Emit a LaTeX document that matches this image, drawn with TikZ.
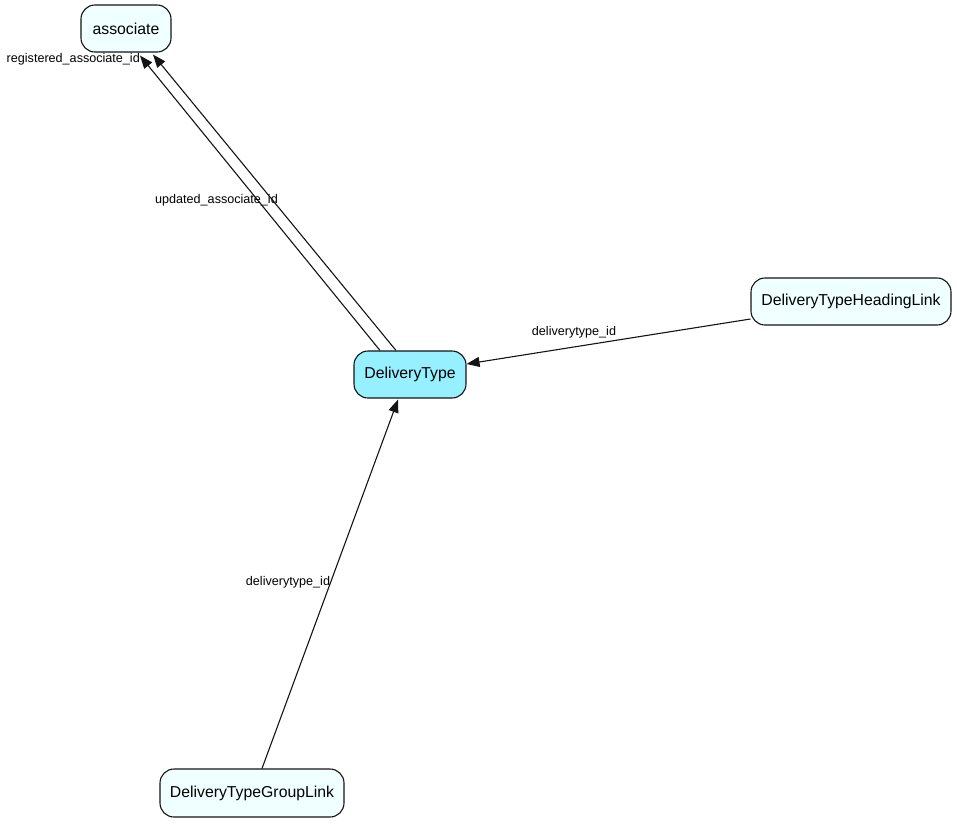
\documentclass[tikz,border=0pt]{standalone}
\usepackage{fontspec}
\setmainfont{Liberation Sans}
\usetikzlibrary{arrows.meta,calc}
\definecolor{paleent}{RGB}{240,255,255}
\definecolor{mainent}{RGB}{150,240,255}
\definecolor{edgecol}{RGB}{20,20,20}
\tikzset{
  ent/.style={draw=edgecol, line width=1.1pt, rounded corners=14pt, fill=paleent,
    minimum height=47pt, inner sep=0pt, font=\fontsize{15.8}{18}\selectfont},
  mainbox/.style={ent, fill=mainent},
  rel/.style={draw=edgecol, line width=1.1pt, -{Triangle[length=13pt,width=10pt]}},
  lbl/.style={font=\fontsize{12.6}{14}\selectfont, inner sep=0pt}
}
\begin{document}
\begin{tikzpicture}[x=1pt,y=-1pt]
\useasboundingbox (0,0) rectangle (957,823);
\node[ent, minimum width=90pt] (as) at (126,28.5) {associate};
\node[mainbox, minimum width=112pt] (dt) at (410,374.5) {DeliveryType};
\node[ent, minimum width=200pt] (hl) at (851,301.5) {DeliveryTypeHeadingLink};
\node[ent, minimum width=184pt, minimum height=48pt] (gl) at (252,793) {DeliveryTypeGroupLink};

\draw[rel] ($(dt.north)+(-30,0)$) -- ($(as.south)+(14,3)$);
\draw[rel] ($(dt.north)+(-14,0)$) -- ($(as.south)+(27,2)$);
\draw[rel] ($(hl.west)+(0,17.5)$) -- ($(dt.east)+(0,-10.5)$);
\draw[rel] ($(gl.north)+(10,0)$) -- ($(dt.south)+(-12,1)$);

\node[lbl, anchor=east] (l1) at (140,59) {registered\_associate\_id};
\node[lbl, anchor=west] (l2) at (155,200) {updated\_associate\_id};
\node[lbl] (l3) at (574,332) {deliverytype\_id};
\node[lbl] (l4) at (288,582) {deliverytype\_id};
\end{tikzpicture}
\end{document}
